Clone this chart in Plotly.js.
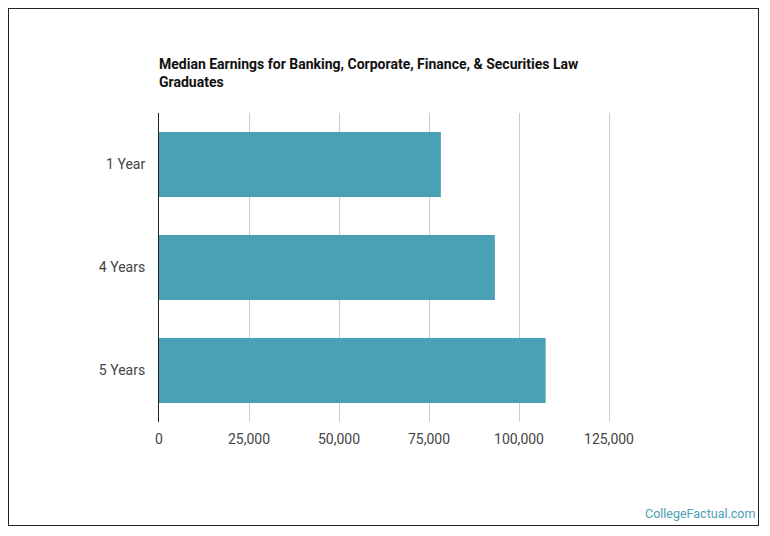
<!DOCTYPE html>
<html>
<head>
<meta charset="utf-8">
<script src="https://cdn.plot.ly/plotly-3.0.1.min.js"></script>
<style>
  html, body { margin: 0; padding: 0; background: #fff; }
  #wrap { position: relative; width: 770px; height: 536px; }
  #chart { width: 770px; height: 536px; }
  #frame { position: absolute; left: 8px; top: 8px; width: 751px; height: 518px;
           border: 1px solid #222; box-sizing: border-box; pointer-events: none; }
</style>
</head>
<body>
<div id="wrap">
  <div id="chart"></div>
  <div id="frame"></div>
</div>
<script>
// Median earnings by years after graduation
const categories = ["1 Year", "4 Years", "5 Years"];
const earnings = [78300, 93300, 107400];
const tickValues = [0, 25000, 50000, 75000, 100000, 125000];
const tickLabels = ["0", "25,000", "50,000", "75,000", "100,000", "125,000"];

const trace = {
  type: "bar",
  orientation: "h",
  y: categories,
  x: earnings,
  marker: { color: "#4aa0b4" },
  hoverinfo: "x+y"
};

const layout = {
  width: 770,
  height: 536,
  margin: { l: 159, r: 143, t: 113, b: 114 },
  paper_bgcolor: "#fff",
  plot_bgcolor: "#fff",
  font: { family: "Roboto, sans-serif", size: 14, color: "#444" },
  bargap: 0.37,
  showlegend: false,
  title: {
    text: "<b>Median Earnings for Banking, Corporate, Finance, & Securities Law<br>Graduates</b>",
    font: { family: "Roboto, sans-serif", size: 14, color: "#111" },
    xref: "paper", x: 0, xanchor: "left",
    yref: "container", y: 0.871, yanchor: "top"
  },
  xaxis: {
    range: [0, 130000],
    tickvals: tickValues,
    ticktext: tickLabels,
    showgrid: true,
    gridcolor: "#cccccc",
    gridwidth: 1,
    zeroline: false,
    showline: false,
    ticks: "",
    ticklabelstandoff: 7,
    tickfont: { size: 14, color: "#444" },
    fixedrange: true
  },
  yaxis: {
    autorange: "reversed",
    showgrid: false,
    zeroline: false,
    showline: true,
    linecolor: "#222",
    linewidth: 1,
    ticks: "",
    ticklabelstandoff: 10,
    tickfont: { size: 14, color: "#444" },
    fixedrange: true
  },
  annotations: [{
    text: "CollegeFactual.com",
    xref: "paper", yref: "paper",
    x: (757 - 159) / 468, y: (422 - 513) / 309,
    xanchor: "right", yanchor: "middle",
    showarrow: false,
    font: { family: "Roboto, sans-serif", size: 12.5, color: "#4aa0b4" }
  }]
};

Plotly.newPlot("chart", [trace], layout, { displayModeBar: false, staticPlot: true });
</script>
</body>
</html>
